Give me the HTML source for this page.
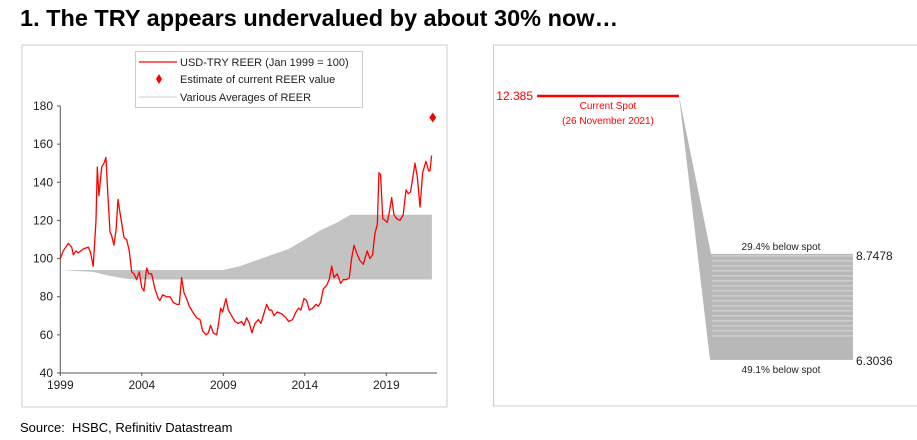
<!DOCTYPE html>
<html><head><meta charset="utf-8"><style>
body{margin:0;width:917px;height:440px;background:#fff;font-family:"Liberation Sans",Arial,sans-serif;overflow:hidden;position:relative}
#title{position:absolute;left:20px;top:5px;font-size:23.5px;font-weight:bold;color:#000;white-space:nowrap}
#source{position:absolute;left:20px;top:420px;font-size:13px;color:#000}
svg{position:absolute;left:0;top:0}
</style></head><body>
<div id="title">1. The TRY appears undervalued by about 30% now…</div>
<div id="source">Source:&nbsp; HSBC, Refinitiv Datastream</div>
<svg id="c" width="917" height="440"></svg>
<script>
const years=[1999.00,1999.18,1999.49,1999.70,1999.80,1999.96,2000.10,2000.41,2000.72,2000.86,2001.02,2001.19,2001.27,2001.37,2001.54,2001.68,2001.80,2001.94,2002.05,2002.15,2002.29,2002.42,2002.54,2002.70,2002.91,2003.07,2003.23,2003.38,2003.52,2003.68,2003.85,2003.99,2004.13,2004.30,2004.44,2004.60,2004.81,2005.01,2005.11,2005.28,2005.52,2005.73,2005.93,2006.14,2006.30,2006.44,2006.59,2006.75,2006.91,2007.12,2007.36,2007.57,2007.73,2007.94,2008.08,2008.22,2008.39,2008.59,2008.69,2008.84,2008.96,2009.16,2009.31,2009.51,2009.72,2009.92,2010.12,2010.27,2010.43,2010.60,2010.76,2010.94,2011.15,2011.31,2011.45,2011.66,2011.82,2011.97,2012.11,2012.31,2012.58,2012.84,2013.01,2013.25,2013.46,2013.62,2013.76,2013.95,2014.11,2014.28,2014.48,2014.69,2014.83,2014.97,2015.13,2015.34,2015.50,2015.65,2015.79,2015.99,2016.20,2016.36,2016.57,2016.73,2016.87,2017.02,2017.18,2017.38,2017.59,2017.69,2017.83,2017.99,2018.16,2018.30,2018.45,2018.55,2018.65,2018.78,2018.92,2019.06,2019.18,2019.33,2019.47,2019.63,2019.84,2020.04,2020.21,2020.35,2020.49,2020.76,2020.90,2021.07,2021.23,2021.43,2021.60,2021.68,2021.78];
const reer=[100,104,108,106,102,104,103,105,106,103,96,120,148,133,148,150,153,130,114,112,107,115,131,122,111,110,104,93,92,89,93,85,83,95,92,92,84,79,78,81,80,80,77,76,76,90,82,79,75,72,69,68,62,60,61,65,61,60,65,74,72,79,73,70,67,66,67,65,69,66,61,66,68,66,70,76,73,73,70,72,71,69,67,68,72,74,73,79,78,73,74,76,75,77,84,86,89,96,90,92,87,89,89,90,100,107,103,99,97,100,104,100,102,113,118,145,144,121,120,119,124,132,123,121,120,123,136,134,135,150,143,127,145,151,146,146,154];
const estYear=[2021.85], estValue=[174];
const bandUpperYears=[1999,2009,2010,2011,2012,2013,2014,2015,2016,2016.8,2021.8];
const bandUpper=[94,94,96,99,102,105,110,115,119,123,123];
const bandLowerYears=[1999,2000,2001,2002,2003,2003.6,2021.8];
const bandLower=[94,93.5,93,91,89.5,89,89];
const yTicks=[40,60,80,100,120,140,160,180];
const xTicks=[1999,2004,2009,2014,2019];
const spot=[12.385], fairHigh=[8.7478], fairLow=[6.3036];
const spotLabels=["12.385","8.7478","6.3036"];

const NS="http://www.w3.org/2000/svg", svg=document.getElementById('c');
function mk(t,a,p){const e=document.createElementNS(NS,t);for(const k in a)e.setAttribute(k,a[k]);(p||svg).appendChild(e);return e;}
const X=y=>60.3+(y-1999)*16.3, Y=v=>106+(180-v)*(267/140);

let f=mk('rect',{x:22,y:45,width:425,height:362,fill:'none',stroke:'#ccc','stroke-width':1});


let pts=bandUpperYears.map((y,i)=>X(y)+','+Y(bandUpper[i]));
for(let i=bandLowerYears.length-1;i>=0;i--)pts.push(X(bandLowerYears[i])+','+Y(bandLower[i]));
let band=mk('polygon',{points:pts.join(' '),fill:'#c3c3c3'});


let ax=mk('path',{d:`M60.3,${Y(180)} V${Y(40)} H437`,stroke:'#555',fill:'none','stroke-width':1});


yTicks.forEach(v=>{
  mk('line',{x1:57,x2:60.3,y1:Y(v),y2:Y(v),stroke:'#555'});
  let t=mk('text',{x:53,y:Y(v)+4,'font-size':12,'text-anchor':'end',fill:'#222'});t.textContent=v;
  
  
});
xTicks.forEach(v=>{
  mk('line',{x1:X(v),x2:X(v),y1:Y(40),y2:Y(40)+3,stroke:'#555'});
  let t=mk('text',{x:X(v),y:Y(40)+16,'font-size':12,'text-anchor':'middle',fill:'#222'});t.textContent=v;
  
  
});
let line=mk('polyline',{points:years.map((y,i)=>X(y)+','+Y(reer[i])).join(' '),fill:'none',stroke:'#f00','stroke-width':1.3,'stroke-linejoin':'round'});


estYear.forEach((y,i)=>{const cx=X(y),cy=Y(estValue[i]);
  let d=mk('polygon',{points:`${cx},${cy-5} ${cx+3.5},${cy} ${cx},${cy+5} ${cx-3.5},${cy}`,fill:'#f00'});
  
  });
let lg=mk('g',{});


mk('rect',{x:135.5,y:51.5,width:227,height:56,fill:'#fff',stroke:'#ccc'},lg);
mk('line',{x1:139,x2:177,y1:62,y2:62,stroke:'#f00','stroke-width':1.2},lg);
mk('polygon',{points:'159,74 162,79 159,84 156,79',fill:'#f00'},lg);
mk('line',{x1:139,x2:177,y1:97,y2:97,stroke:'#ccc','stroke-width':1},lg);
[["USD-TRY REER (Jan 1999 = 100)",66],["Estimate of current REER value",83],["Various Averages of REER",101]].forEach(([s,y])=>{
  let t=mk('text',{x:180,y:y,'font-size':11,fill:'#222'},lg);t.textContent=s;
  
  });

const R=v=>96+(12.385-v)*43.4;
let f2=mk('rect',{x:493.5,y:45,width:430,height:361,fill:'none',stroke:'#ccc'});


let fan=mk('polygon',{points:`679,${R(spot[0])} 711,${R(fairHigh[0])} 853,${R(fairHigh[0])} 853,${R(fairLow[0])} 710,${R(fairLow[0])}`,fill:'#b8b8b8'});


for(let y=R(fairHigh[0])+2;y<R(fairLow[0])-20;y+=5){mk('line',{x1:712,x2:853,y1:y,y2:y,stroke:'#d2d2d2','stroke-width':1.2});}
let sl=mk('line',{x1:537,x2:679,y1:R(spot[0]),y2:R(spot[0]),stroke:'#f00','stroke-width':2.5});


function txt(s,x,y,o,name){let t=mk('text',Object.assign({x:x,y:y,'font-size':10},o));t.textContent=s;return t;}
txt(spotLabels[0],533,R(spot[0])+4,{'text-anchor':'end',fill:'#f00','font-size':12},'spot-value');
txt("Current Spot",608,109,{'text-anchor':'middle',fill:'#f00'},'spot-label');
txt("(26 November 2021)",608,124,{'text-anchor':'middle',fill:'#f00'},'spot-date');
txt("29.4% below spot",781,250,{'text-anchor':'middle',fill:'#222'},'upper-label');
txt("49.1% below spot",781,373,{'text-anchor':'middle',fill:'#222'},'lower-label');
txt(spotLabels[1],856,R(fairHigh[0])+6,{fill:'#222','font-size':12},'upper-value');
txt(spotLabels[2],856,R(fairLow[0])+5,{fill:'#222','font-size':12},'lower-value');
</script>
</body></html>
